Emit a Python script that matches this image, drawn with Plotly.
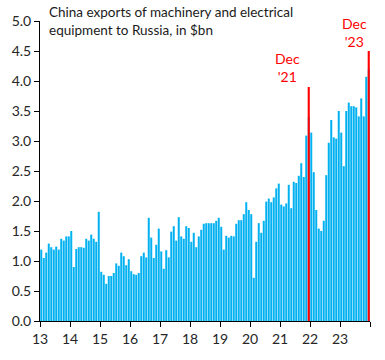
import plotly.graph_objects as go

# Monthly values, $bn (Jan..Dec per year)
years = [2013, 2014, 2015, 2016, 2017, 2018, 2019, 2020, 2021, 2022, 2023]
v2013 = [1.19, 1.05, 1.14, 1.29, 1.23, 1.19, 1.24, 1.19, 1.37, 1.34, 1.41, 1.41]
v2014 = [1.50, 0.90, 1.20, 1.23, 1.23, 1.22, 1.37, 1.34, 1.44, 1.37, 1.32, 1.82]
v2015 = [0.82, 0.77, 0.62, 0.75, 0.75, 0.80, 0.96, 0.92, 1.14, 1.08, 0.93, 1.03]
v2016 = [0.83, 0.78, 0.77, 0.80, 1.08, 1.14, 1.06, 1.72, 1.39, 1.05, 1.27, 1.54]
v2017 = [1.16, 0.87, 1.18, 1.06, 1.49, 1.58, 1.34, 1.73, 1.41, 1.37, 1.58, 1.55]
v2018 = [1.32, 1.47, 1.23, 1.41, 1.52, 1.62, 1.63, 1.63, 1.63, 1.63, 1.67, 1.72]
v2019 = [1.57, 1.19, 1.42, 1.39, 1.42, 1.41, 1.62, 1.68, 1.68, 1.78, 1.98, 1.85]
v2020 = [1.78, 0.72, 1.32, 1.63, 1.47, 1.67, 1.99, 2.04, 1.98, 2.06, 2.21, 2.29]
v2021 = [1.94, 1.91, 1.96, 2.27, 1.88, 2.32, 2.30, 2.42, 2.63, 2.40, 3.09, 3.40]
v2022 = [3.14, 2.48, 1.85, 1.54, 1.50, 1.67, 2.43, 2.97, 3.35, 3.06, 3.04, 3.50]
v2023 = [3.14, 2.58, 3.50, 3.64, 3.58, 3.58, 3.56, 3.41, 3.71, 3.41, 4.07, 4.20]

values = v2013 + v2014 + v2015 + v2016 + v2017 + v2018 + v2019 + v2020 + v2021 + v2022 + v2023
tick_labels = [str(y)[2:] for y in years] + [""]

# Highlight markers (Dec '21 and Dec '23)
marker_labels = ["Dec<br>'21", "Dec<br>'23"]
marker_month_index = [8 * 12 + 11, 10 * 12 + 11]
marker_heights = [3.9, 4.5]

month_pos = [i + 0.5 for i in range(len(values))]
marker_pos = [i + 0.5 for i in marker_month_index]

FONT = "Lato, 'Open Sans', Arial, sans-serif"

fig = go.Figure()
fig.add_trace(go.Bar(x=month_pos, y=values, marker=dict(color="#00B0F0", line=dict(width=0)),
                     width=0.8, hoverinfo="y"))
fig.add_trace(go.Bar(x=marker_pos, y=marker_heights, marker=dict(color="#FF0000", line=dict(width=0)),
                     width=0.85, hoverinfo="y"))

for lbl, xp, h, xs, ys in zip(marker_labels, marker_pos, marker_heights, [-7, 0], [0, -1]):
    fig.add_annotation(x=xp, y=h, xref="x", yref="y", text=lbl, showarrow=False,
                       xanchor="right", yanchor="bottom", align="center",
                       xshift=xs, yshift=ys, font=dict(family=FONT, size=14, color="#FF0000"))

fig.add_annotation(x=0.02, y=1.062, xref="paper", yref="paper", xanchor="left", yanchor="top",
                   align="left", showarrow=False,
                   text="China exports of machinery and electrical<br>equipment to Russia, in $bn",
                   font=dict(family=FONT, size=13.5, color="#1a1a1a"))

fig.update_layout(
    width=385, height=360,
    margin=dict(l=38, r=15, t=15, b=39),
    paper_bgcolor="white", plot_bgcolor="white",
    barmode="overlay", showlegend=False,
    font=dict(family=FONT, size=14, color="#262626"),
)
fig.update_xaxes(range=[0, len(values)], tickmode="array",
                 tickvals=[12 * i for i in range(len(tick_labels))], ticktext=tick_labels,
                 showline=True, linecolor="black", linewidth=1, ticks="outside",
                 ticklen=5, tickcolor="black", showgrid=False, zeroline=False)
fig.update_yaxes(range=[0, 5], dtick=0.5, tickformat=".1f",
                 showline=True, linecolor="black", linewidth=1, ticks="outside",
                 ticklen=5, tickcolor="black", showgrid=False, zeroline=False)

fig.write_html("out.html", config={"displayModeBar": False},
               post_script="document.body.style.margin='0';")
